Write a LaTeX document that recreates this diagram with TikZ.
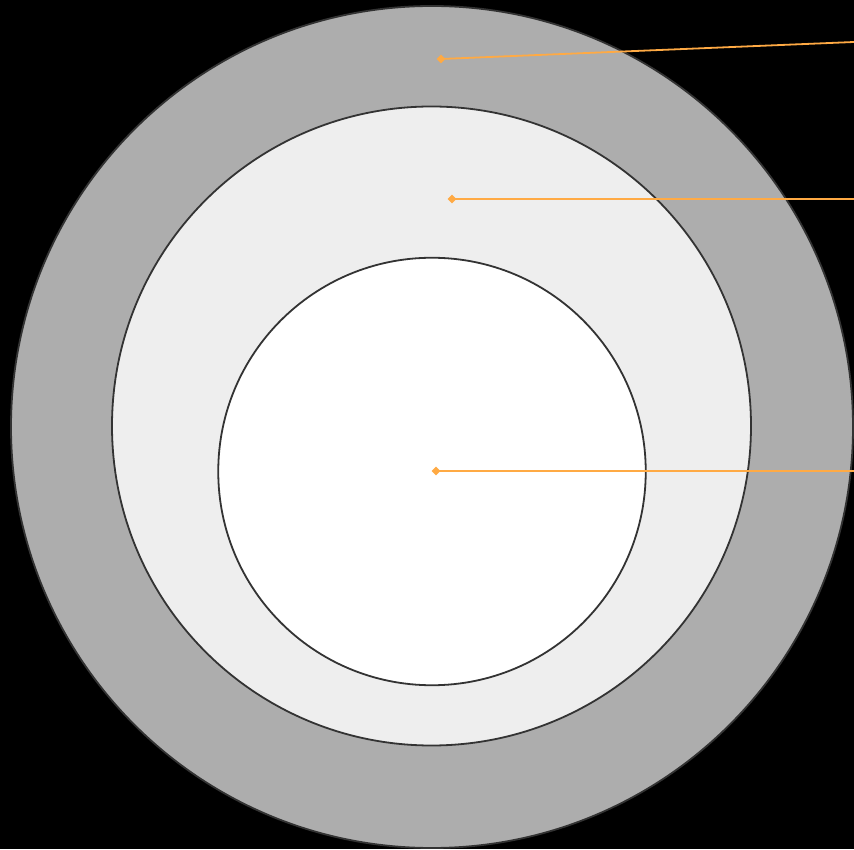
\documentclass[tikz,border=0pt]{standalone}
\usetikzlibrary{shapes.geometric}
\definecolor{ringout}{HTML}{ADADAD}
\definecolor{ringmid}{HTML}{EEEEEE}
\definecolor{edgec}{HTML}{333333}
\definecolor{lead}{HTML}{FFAA44}
\tikzset{
  ring/.style={circle, draw=edgec, line width=1.8pt, inner sep=0pt},
  dot/.style={diamond, fill=lead, inner sep=0pt, minimum size=9pt},
  leader/.style={draw=lead, line width=1.8pt}
}
\begin{document}
\begin{tikzpicture}[x=1pt,y=1pt]
\fill[black] (0,0) rectangle (854,849);
\useasboundingbox (0,0) rectangle (854,849);
\node[ring, fill=ringout, minimum size=842pt] (outer) at (432,422) {};
\node[ring, fill=ringmid, minimum size=639pt] (middle) at (431.5,423) {};
\node[ring, fill=white, minimum size=427.5pt] (inner) at (432,377.5) {};
\node[dot] (d1) at (441,790) {};
\node[dot] (d2) at (452,650) {};
\node[dot] (d3) at (436,378) {};
\coordinate (e1) at (854,807);
\coordinate (e2) at (854,650);
\coordinate (e3) at (854,378);
\draw[leader] (d1.center) -- (e1);
\draw[leader] (d2.center) -- (e2);
\draw[leader] (d3.center) -- (e3);
\end{tikzpicture}
\end{document}
